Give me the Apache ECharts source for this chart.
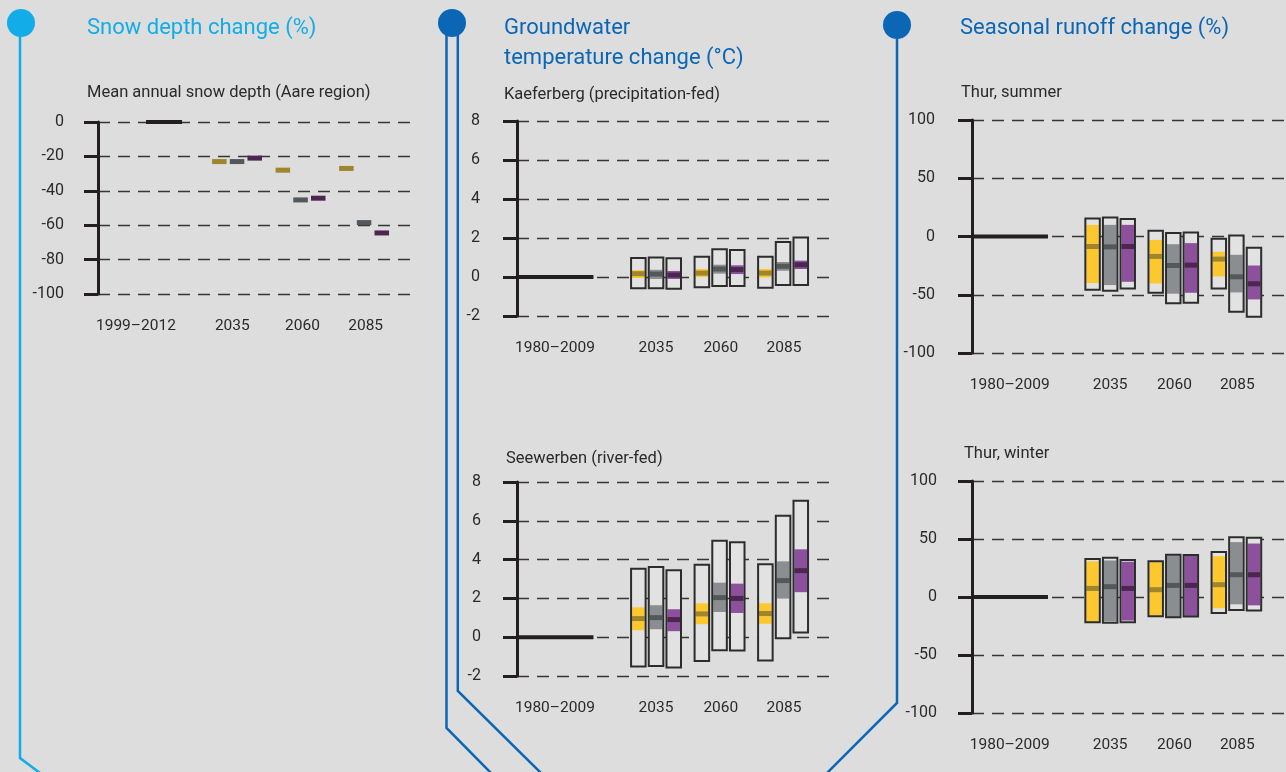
<!DOCTYPE html>
<html><head><meta charset="utf-8">
<script src="https://cdn.jsdelivr.net/npm/echarts@6/dist/echarts.min.js"></script>
<style>html,body{margin:0;padding:0;background:#dddddd;}#c{width:1286px;height:772px;}</style>
</head><body><div id="c"></div>
<script>
// ---------------- DATA ----------------
const scenarios = ['RCP2.6', 'RCP4.5', 'RCP8.5'];
const futurePeriods = ['2035', '2060', '2085'];
const snowRefPeriod = '1999–2012';
const hydroRefPeriod = '1980–2009';

// y-axis tick labels
const snowYTicks = [-100, -80, -60, -40, -20, 0];
const gwYTicks = [-2, 0, 2, 4, 6, 8];
const runoffYTicks = [-100, -50, 0, 50, 100];

// reference value (change relative to reference period)
const refValue = 0;

// Snow depth change (%), median per future period
const snowRcp26 = [-23, -28, -27];
const snowRcp45 = [-23, -45.3, -58.5];
const snowRcp85 = [-21, -44.3, -64.5];

// [min, likely low, median, likely high, max] per future period
const kaefRcp26 = [[-0.58, -0.05, 0.17, 0.35, 0.98], [-0.53, 0.0, 0.2, 0.41, 1.04], [-0.55, -0.02, 0.2, 0.41, 1.04]];
const kaefRcp45 = [[-0.58, -0.1, 0.15, 0.37, 1.0], [-0.46, 0.17, 0.41, 0.63, 1.42], [-0.41, 0.32, 0.55, 0.77, 1.8]];
const kaefRcp85 = [[-0.6, -0.1, 0.1, 0.31, 0.96], [-0.46, 0.15, 0.38, 0.6, 1.39], [-0.41, 0.41, 0.63, 0.84, 2.03]];

const seewRcp26 = [[-1.51, 0.36, 0.96, 1.54, 3.53], [-1.23, 0.67, 1.2, 1.75, 3.74], [-1.2, 0.69, 1.22, 1.75, 3.76]];
const seewRcp45 = [[-1.48, 0.41, 1.01, 1.65, 3.62], [-0.67, 1.3, 2.04, 2.81, 4.97], [-0.05, 1.99, 2.92, 3.91, 6.26]];
const seewRcp85 = [[-1.56, 0.31, 0.91, 1.44, 3.45], [-0.69, 1.25, 2.0, 2.76, 4.9], [0.24, 2.32, 3.43, 4.53, 7.03]];

const summerRcp26 = [[-45.7, -40, -8.6, 10, 15.4], [-48.3, -40.3, -17.1, -2.9, 4.9], [-44.6, -34.3, -19.4, -13.1, -2]];
const summerRcp45 = [[-46.6, -41.7, -8.9, 10, 16.3], [-57.4, -49.1, -24.9, -6.6, 2.9], [-64.6, -48, -34.6, -15.7, 0.9]];
const summerRcp85 = [[-44.6, -38.9, -8.6, 10, 15.1], [-56.9, -48.3, -24.6, -5.7, 3.4], [-68.9, -54, -40.6, -24.9, -9.7]];

const winterRcp26 = [[-21.8, -21.8, 7.4, 30.7, 32.7], [-16.6, -16, 6.3, 30.1, 30.9], [-13.8, -9.7, 10.6, 35.2, 38.7]];
const winterRcp45 = [[-22.3, -20.9, 8.9, 31.5, 33.8], [-17.5, -17.2, 10, 35.8, 36.4], [-11.2, -6.3, 19.2, 47.3, 51.6]];
const winterRcp85 = [[-21.8, -20.3, 7.4, 30.4, 31.8], [-16.9, -16.3, 10, 35.5, 36.1], [-11.7, -7.2, 19.2, 46.1, 51]];

// ---------------- LAYOUT / STYLE ----------------
const FONT = 'Roboto, "DejaVu Sans", sans-serif';
const TXT = '#2a2a2a';
const AXIS = '#231f20';
const BAND = ['#fdc82f', '#8b8e90', '#8c509d'];
const MED = ['#9f852c', '#53585b', '#4c2651'];
const LIGHT_BLUE = '#12ade8';
const DARK_BLUE = '#0b67b6';

const X_MAX = 10;
const GROUP_X = [4.4, 6.41, 8.42];
const SCEN_OFF = 0.56;
const BOX_W = 0.46;
const REF_SPAN = [0, 2.42];
const SNOW_REF_SPAN = [1.52, 2.66];
const LABEL_X = [1.2, 4.4, 6.45, 8.45];
const SNOW_LABEL_X = [1.2, 4.25, 6.47, 8.47];

const GRIDS = [
  { left: 98, top: 122, width: 316, height: 172, offset: 10 },  // snow
  { left: 517, top: 121, width: 316, height: 195, offset: 13 }, // Kaeferberg
  { left: 517, top: 482, width: 316, height: 194, offset: 12 }, // Seewerben
  { left: 972, top: 120, width: 316, height: 233, offset: 13 }, // summer
  { left: 972, top: 481, width: 316, height: 232, offset: 11 }  // winter
];

function xAxisFor(i, labels, pos) {
  return {
    type: 'value', gridIndex: i, min: 0, max: X_MAX,
    axisLine: { show: false }, axisTick: { show: false }, splitLine: { show: false },
    axisLabel: {
      customValues: pos, margin: 24, color: TXT, fontSize: 15.5, fontFamily: FONT,
      formatter: function (v) {
        for (let k = 0; k < pos.length; k++) if (Math.abs(pos[k] - v) < 1e-6) return labels[k];
        return '';
      }
    }
  };
}
function yAxisFor(i, ticks) {
  return {
    type: 'value', gridIndex: i, min: ticks[0], max: ticks[ticks.length - 1],
    interval: ticks[1] - ticks[0], offset: GRIDS[i].offset,
    axisLine: { show: true, lineStyle: { color: AXIS, width: 3 } },
    axisTick: { show: true, length: 14, lineStyle: { color: AXIS, width: 3 } },
    axisLabel: { margin: 24, color: TXT, fontSize: 16, fontFamily: FONT },
    splitLine: { show: true, lineStyle: { color: '#363636', width: 1.4, type: [12, 8] } }
  };
}

function boxData(sets) {
  const out = [];
  sets.forEach(function (arr, s) {
    arr.forEach(function (v, p) {
      out.push([GROUP_X[p] + (s - 1) * SCEN_OFF, v[0], v[1], v[2], v[3], v[4], s]);
    });
  });
  return out;
}
function snowData(sets) {
  const out = [];
  sets.forEach(function (arr, s) {
    arr.forEach(function (v, p) { out.push([GROUP_X[p] + (s - 1) * SCEN_OFF, v, s]); });
  });
  return out;
}

function boxRender(params, api) {
  const x = api.value(0);
  const pMin = api.coord([x, api.value(1)]);
  const pLo = api.coord([x, api.value(2)]);
  const pMed = api.coord([x, api.value(3)]);
  const pHi = api.coord([x, api.value(4)]);
  const pMax = api.coord([x, api.value(5)]);
  const s = api.value(6);
  const w = api.size([BOX_W, 0])[0];
  const left = pMin[0] - w / 2;
  return {
    type: 'group', children: [
      { type: 'rect', shape: { x: left, y: pMax[1], width: w, height: pMin[1] - pMax[1] }, style: { fill: '#e2e2e2' } },
      { type: 'rect', shape: { x: left + 1, y: pHi[1], width: w - 2, height: pLo[1] - pHi[1] }, style: { fill: BAND[s] } },
      { type: 'rect', shape: { x: left + 1, y: pMed[1] - 2.5, width: w - 2, height: 5 }, style: { fill: MED[s] } },
      { type: 'rect', shape: { x: left, y: pMax[1], width: w, height: pMin[1] - pMax[1] }, style: { fill: 'none', stroke: '#2c2c2c', lineWidth: 2 } }
    ]
  };
}
function snowRender(params, api) {
  const x = api.value(0);
  const p = api.coord([x, api.value(1)]);
  const w = api.size([BOX_W, 0])[0];
  return { type: 'rect', shape: { x: p[0] - w / 2, y: p[1] - 2.5, width: w, height: 5 }, style: { fill: MED[api.value(2)] } };
}

function refLine(i, span) {
  return {
    type: 'line', xAxisIndex: i, yAxisIndex: i, symbol: 'none', silent: true, z: 3,
    data: [[span[0], refValue], [span[1], refValue]],
    lineStyle: { color: AXIS, width: 4 }
  };
}
function boxSeries(i, sets) {
  return { type: 'custom', xAxisIndex: i, yAxisIndex: i, renderItem: boxRender, data: boxData(sets), encode: { x: 0, y: [1, 5] }, silent: true, z: 4 };
}

const hydroLabels = [hydroRefPeriod].concat(futurePeriods);
const snowLabels = [snowRefPeriod].concat(futurePeriods);

const titleStyle = { fontFamily: FONT, fontSize: 22, fontWeight: 'normal', lineHeight: 30 };
const subStyle = { fontFamily: FONT, fontSize: 16.5, fontWeight: 'normal', color: TXT, lineHeight: 20 };

const option = {
  backgroundColor: '#dddddd',
  animation: false,
  title: [
    { text: 'Snow depth change (%)', left: 87, top: 13, padding: 0, textStyle: Object.assign({ color: LIGHT_BLUE }, titleStyle) },
    { text: 'Groundwater\ntemperature change (°C)', left: 504, top: 13.5, padding: 0, textStyle: Object.assign({ color: DARK_BLUE }, titleStyle) },
    { text: 'Seasonal runoff change (%)', left: 960, top: 13, padding: 0, textStyle: Object.assign({ color: DARK_BLUE }, titleStyle) },
    { text: 'Mean annual snow depth (Aare region)', left: 87, top: 83, padding: 0, textStyle: subStyle },
    { text: 'Kaeferberg (precipitation-fed)', left: 504, top: 85, padding: 0, textStyle: subStyle },
    { text: 'Seewerben (river-fed)', left: 506, top: 449, padding: 0, textStyle: subStyle },
    { text: 'Thur, summer', left: 961, top: 83, padding: 0, textStyle: subStyle },
    { text: 'Thur, winter', left: 964, top: 444, padding: 0, textStyle: subStyle }
  ],
  grid: GRIDS.map(function (g) { return { left: g.left, top: g.top, width: g.width, height: g.height }; }),
  xAxis: [xAxisFor(0, snowLabels, SNOW_LABEL_X), xAxisFor(1, hydroLabels, LABEL_X), xAxisFor(2, hydroLabels, LABEL_X), xAxisFor(3, hydroLabels, LABEL_X), xAxisFor(4, hydroLabels, LABEL_X)],
  yAxis: [yAxisFor(0, snowYTicks), yAxisFor(1, gwYTicks), yAxisFor(2, gwYTicks), yAxisFor(3, runoffYTicks), yAxisFor(4, runoffYTicks)],
  series: [
    refLine(0, SNOW_REF_SPAN),
    { type: 'custom', xAxisIndex: 0, yAxisIndex: 0, renderItem: snowRender, data: snowData([snowRcp26, snowRcp45, snowRcp85]), encode: { x: 0, y: 1 }, silent: true, z: 4 },
    refLine(1, REF_SPAN), boxSeries(1, [kaefRcp26, kaefRcp45, kaefRcp85]),
    refLine(2, REF_SPAN), boxSeries(2, [seewRcp26, seewRcp45, seewRcp85]),
    refLine(3, REF_SPAN), boxSeries(3, [summerRcp26, summerRcp45, summerRcp85]),
    refLine(4, REF_SPAN), boxSeries(4, [winterRcp26, winterRcp45, winterRcp85])
  ],
  graphic: [
    { type: 'polyline', shape: { points: [[20, 23], [20, 758], [40, 773]] }, style: { stroke: LIGHT_BLUE, lineWidth: 2.5, fill: null } },
    { type: 'circle', shape: { cx: 21, cy: 23, r: 14 }, style: { fill: LIGHT_BLUE } },
    { type: 'polyline', shape: { points: [[446.5, 23], [446.5, 728], [491, 773]] }, style: { stroke: DARK_BLUE, lineWidth: 2.5, fill: null } },
    { type: 'polyline', shape: { points: [[457.8, 23], [457.8, 691], [541, 773]] }, style: { stroke: DARK_BLUE, lineWidth: 2.5, fill: null } },
    { type: 'circle', shape: { cx: 452, cy: 23, r: 14 }, style: { fill: DARK_BLUE } },
    { type: 'polyline', shape: { points: [[897, 25], [897, 703], [827, 773]] }, style: { stroke: DARK_BLUE, lineWidth: 2.5, fill: null } },
    { type: 'circle', shape: { cx: 897, cy: 25, r: 14 }, style: { fill: DARK_BLUE } }
  ]
};

const chart = echarts.init(document.getElementById('c'), null, { renderer: 'canvas' });
chart.setOption(option);
</script>
</body></html>
